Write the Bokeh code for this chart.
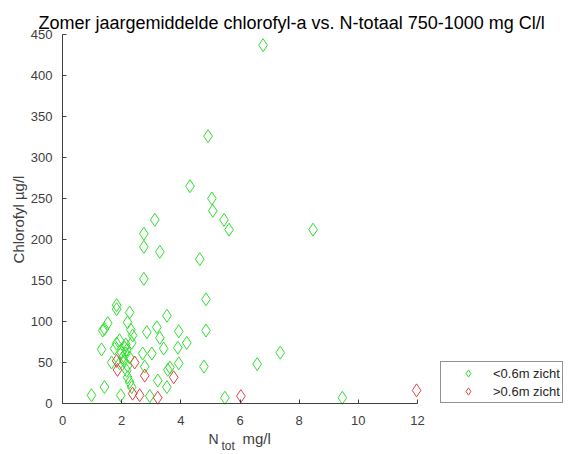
import math
from bokeh.plotting import figure
from bokeh.models import Range1d, Legend, LegendItem, FixedTicker, Label
from bokeh.embed import file_html
from bokeh.resources import INLINE

# <0.6m zicht (green)
green_x = [6.78, 4.92, 4.31, 5.05, 5.08, 5.46, 5.63, 8.47, 3.12, 3.29, 2.75, 2.75, 2.75,
           4.64, 4.85, 4.85, 4.78, 6.58, 7.36, 5.49, 9.46,
           1.83, 1.83, 2.27, 3.53, 1.53, 1.36, 1.42, 2.20, 2.31, 2.85, 3.19, 3.93, 2.37,
           3.29, 2.34, 4.20, 3.90, 3.42, 1.32, 3.02, 2.71, 1.76, 2.00, 2.17, 2.03, 2.27,
           1.66, 1.93, 2.20, 2.78, 3.63, 3.93, 2.17, 3.56, 2.20, 2.27, 3.22, 3.53, 1.42,
           2.34, 0.98, 1.97, 2.95, 1.83, 2.10, 1.93, 2.14, 2.07, 2.14]
green_y = [437, 326, 265, 250, 235, 224, 212, 212, 224, 185, 207, 191, 152,
           176, 127, 89, 45, 48, 62, 7, 7,
           120, 115, 111, 107, 98, 89, 91, 99, 90, 87, 93, 88, 83,
           80, 74, 74, 68, 67, 66, 61, 61, 67, 62, 65, 56, 56,
           50, 49, 46, 45, 44, 49, 40, 41, 32, 26, 28, 20, 20,
           20, 10, 10, 9, 73, 68, 77, 72, 52, 61]

# >0.6m zicht (red)
red_x = [1.83, 1.86, 2.44, 2.78, 3.76, 2.37, 2.61, 3.22, 6.03, 11.97]
red_y = [52, 41, 50, 34, 32, 12, 10, 7, 9, 16]

x_ticks = [0, 2, 4, 6, 8, 10, 12]
y_ticks = [0, 50, 100, 150, 200, 250, 300, 350, 400, 450]
x_lim = (0, 12)
y_lim = (0, 450)
legend_labels = ["<0.6m zicht", ">0.6m zicht"]
title_text = "Zomer jaargemiddelde chlorofyl-a vs. N-totaal 750-1000 mg Cl/l"
y_label = "Chlorofyl µg/l"

FONT = "Liberation Sans"
AX = "#404040"
W, H = 568, 454
# pixel placement of the axes box inside the canvas
AX_LEFT, AX_RIGHT, AX_TOP, AX_BOTTOM = 62, 417, 34, 403

xs = (AX_RIGHT - AX_LEFT) / (x_lim[1] - x_lim[0])
ys = (AX_BOTTOM - AX_TOP) / (y_lim[1] - y_lim[0])
x_range = Range1d(x_lim[0] - AX_LEFT / xs, x_lim[1] + (W - AX_RIGHT) / xs)
y_range = Range1d(y_lim[0] - (H - AX_BOTTOM) / ys, y_lim[1] + AX_TOP / ys)

p = figure(width=W, height=H, output_backend="svg", toolbar_location=None,
           x_range=x_range, y_range=y_range,
           min_border=0, min_border_left=0, min_border_right=0,
           min_border_top=0, min_border_bottom=0)
p.outline_line_color = None
p.xgrid.grid_line_color = None
p.ygrid.grid_line_color = None

for ax in (p.xaxis[0], p.yaxis[0]):
    ax.fixed_location = 0
    ax.axis_line_color = AX
    ax.major_tick_line_color = AX
    ax.major_tick_in = 4
    ax.major_tick_out = 0
    ax.minor_tick_line_color = None
    ax.major_label_text_font = FONT
    ax.major_label_text_font_size = "13px"
    ax.major_label_text_color = AX
p.xaxis.bounds = x_lim
p.yaxis.bounds = y_lim
p.xaxis.ticker = FixedTicker(ticks=x_ticks)
p.yaxis.ticker = FixedTicker(ticks=y_ticks)
p.xaxis.major_label_standoff = 12
p.yaxis.major_label_standoff = 10

rg = p.scatter(green_x, green_y, marker="diamond", size=13, fill_color=None,
               line_color="#2ee02e", line_width=1)
rr = p.scatter(red_x, red_y, marker="diamond", size=13, fill_color=None,
               line_color="#e04545", line_width=1)

legend = Legend(items=[LegendItem(label=legend_labels[0], renderers=[rg]),
                       LegendItem(label=legend_labels[1], renderers=[rr])],
                location=(440, H - 403), orientation="vertical",
                padding=2, spacing=0, margin=0,
                glyph_width=50, glyph_height=18, label_height=18, label_standoff=0,
                label_text_font=FONT, label_text_font_size="13px", label_text_color="#262626",
                border_line_color="#262626", border_line_width=1,
                background_fill_color="white", background_fill_alpha=1)
p.add_layout(legend, "center")

def lbl(text, x, y, size, color=AX, **kw):
    # x, y: screen pixels from the canvas top-left
    p.add_layout(Label(text=text, x=x, y=H - y, x_units="screen", y_units="screen",
                       text_font=FONT, text_font_size=size, text_color=color, **kw))

lbl(title_text, 38, 22, "18px", color="#000000", text_align="left", text_baseline="alphabetic")
lbl(y_label, 18, 219, "15px", text_align="center", text_baseline="middle", angle=math.pi / 2)
lbl("N", 208, 438, "14px", text_align="left", text_baseline="alphabetic")
lbl("tot", 221, 445, "12px", text_align="left", text_baseline="alphabetic")
lbl("mg/l", 242, 438, "15px", text_align="left", text_baseline="alphabetic")

open("out.html", "w").write(file_html(p, INLINE))
